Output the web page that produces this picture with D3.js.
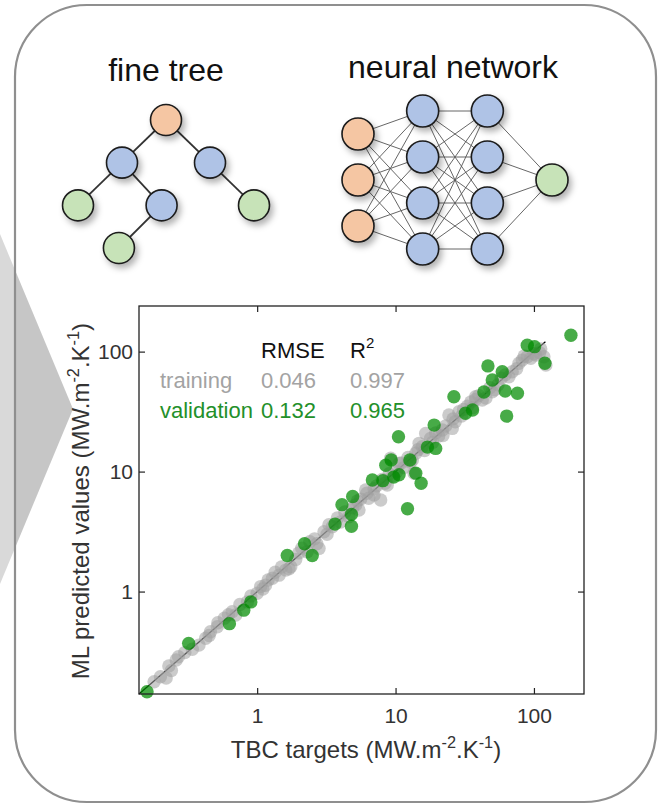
<!DOCTYPE html>
<html>
<head>
<meta charset="UTF-8">
<title>fine tree / neural network - TBC prediction</title>
<script src="https://d3js.org/d3.v7.min.js"></script>
<style>
  body { margin: 0; background: #fff; }
  svg { display: block; font-family: "Liberation Sans", Arial, sans-serif; }
  .tick line { stroke: #222; stroke-width: 1.2; }
  .tick text { fill: #333; font-size: 21px; }
</style>
</head>
<body>
<div id="chart"></div>
<script>
// ---- data ----
// training set: TBC target vs ML prediction (MW.m-2.K-1)
const trainTarget = [0.18, 0.20, 0.22, 0.23, 0.24, 0.26, 0.27, 0.30, 0.34, 0.38, 0.425, 0.45, 0.46, 0.515, 0.52,
  0.58, 0.62, 0.66, 0.70, 0.75, 0.85, 0.9, 1.00, 1.06, 1.1, 1.15, 1.2, 1.29, 1.35, 1.44, 1.5, 1.61, 1.7,
  1.75, 1.9, 2.0, 2.1, 2.3, 2.4, 2.6, 2.7, 2.8, 3.04, 3.2, 3.3, 3.49, 3.8, 4.0, 4.3, 4.6, 4.9, 5.15, 5.3,
  5.44, 5.6, 6.08, 6.2, 6.4, 6.99, 7.0, 7.3, 7.81, 8.0, 8.4, 8.71, 9.0, 9.22, 9.5, 10.2, 10.6, 11.0, 11.5,
  12.3, 12.8, 13.2, 13.6, 14.0, 14.5, 14.8, 15.6, 16.2, 16.5, 17.9, 18.5, 19.5, 20.5, 21.8, 22, 23, 24.3,
  25.7, 26, 27, 28.7, 30, 31, 33, 35, 36, 37.9, 38, 40, 42.3, 45, 48, 50, 52, 55, 58, 62, 66, 69.7, 75,
  78, 82.3, 85, 89.5, 95, 100, 103, 110, 112, 118, 122];
const trainPred = [0.177, 0.195, 0.19, 0.24, 0.22, 0.269, 0.286, 0.31, 0.33, 0.358, 0.408, 0.43, 0.463, 0.509, 0.55,
  0.60, 0.64, 0.68, 0.637, 0.78, 0.82, 0.92, 0.967, 1.10, 1.05, 1.13, 1.25, 1.29, 1.45, 1.37, 1.6, 1.51, 1.55,
  1.61, 1.85, 2.1, 2.3, 2.15, 2.6, 2.75, 2.5, 2.29, 3.15, 3.0, 3.6, 3.47, 4.1, 3.8, 4.6, 4.2, 5.0, 5.26, 5.7,
  4.78, 5.9, 7.02, 6.6, 6.0, 6.37, 7.2, 7.6, 5.79, 8.6, 8.0, 7.72, 9.6, 12.9, 9.2, 10.0, 11.7, 11.8, 10.8,
  13.1, 12.0, 12.4, 9.67, 14.2, 15.2, 17.2, 16.1, 15.0, 20.8, 18.9, 17.5, 21, 19.8, 22.2, 20, 24, 29.6,
  22.9, 27.5, 26, 31.5, 29, 33, 35, 38, 34, 42.0, 40, 43, 39.5, 41, 50, 46.3, 48, 53, 60, 64, 61.7, 67.9, 72,
  80, 85.0, 92, 90.6, 88, 96, 93.6, 98, 105, 90.6, 77.2];
// validation set
const valTarget = [0.16, 0.32, 0.63, 0.80, 0.90, 1.65, 2.2, 2.5, 3.65, 4.1, 4.8, 4.8, 4.9, 6.8, 8.1, 8.5, 9.3,
  9.7, 10.6, 12.2, 12.7, 14.0, 15.3, 10.5, 17, 19.5, 19, 26.4, 32, 36, 43.5, 46.5, 50, 59, 62, 63.5, 76,
  89.5, 101, 120, 185];
const valPred = [0.146, 0.37, 0.54, 0.70, 0.82, 2.0, 2.5, 2.0, 3.65, 5.3, 4.4, 3.5, 6.2, 8.5, 8.4, 11.3, 12.5,
  9.0, 9.4, 4.9, 12.5, 9.7, 8.0, 19.5, 16, 15.6, 24.4, 42, 30.6, 32.6, 46, 76, 58, 68, 47, 29, 45,
  113, 110, 80, 137];
const tickVals = [1, 10, 100];
const metricNames = ["RMSE", "R"];
const trainingStats = ["0.046", "0.997"];
const validationStats = ["0.132", "0.965"];
const parityLine = [0.14, 121];

// schematic diagrams
const treeNodes = [
  { id: "root", col: 0, depth: 0, kind: "in" },
  { id: "L", col: -1, depth: 1, kind: "mid" },
  { id: "R", col: 1, depth: 1, kind: "mid" },
  { id: "LL", col: -2, depth: 2, kind: "out" },
  { id: "LR", col: -0.1, depth: 2, kind: "mid" },
  { id: "RR", col: 2, depth: 2, kind: "out" },
  { id: "LRL", col: -1.07, depth: 3, kind: "out" }
];
const treeLinks = [["root", "L"], ["root", "R"], ["L", "LL"], ["L", "LR"], ["LR", "LRL"], ["R", "RR"]];
const layerSizes = [3, 4, 4, 1];
const layerKinds = ["in", "mid", "mid", "out"];

// ---- svg ----
const W = 666, H = 806;
const svg = d3.select("#chart").append("svg").attr("width", W).attr("height", H);
const defs = svg.append("defs");
const sh = defs.append("filter").attr("id", "shadow")
  .attr("x", "-50%").attr("y", "-50%").attr("width", "200%").attr("height", "200%");
sh.append("feDropShadow").attr("dx", 3).attr("dy", 4).attr("stdDeviation", 3)
  .attr("flood-color", "#000").attr("flood-opacity", 0.3);
const grad = defs.append("linearGradient").attr("id", "chev")
  .attr("gradientUnits", "userSpaceOnUse").attr("x1", 0).attr("x2", 73).attr("y1", 0).attr("y2", 0);
grad.append("stop").attr("offset", 0).attr("stop-color", "#d9d9d9");
grad.append("stop").attr("offset", 0.2).attr("stop-color", "#d9d9d9");
grad.append("stop").attr("offset", 0.2).attr("stop-color", "#c6c6c6");
grad.append("stop").attr("offset", 1).attr("stop-color", "#c6c6c6");

svg.append("rect").attr("width", W).attr("height", H).attr("fill", "#fff");
// gray arrow behind the panel
svg.append("path").attr("d", "M0,234 L73,409 L0,584 Z").attr("fill", "url(#chev)");
// panel
svg.append("rect").attr("x", 15).attr("y", 5).attr("width", 641).attr("height", 797)
  .attr("rx", 72).attr("ry", 72).attr("fill", "none").attr("stroke", "#8f8f8f").attr("stroke-width", 2.2);

const fills = { in: "#f5c6a3", mid: "#afc3e6", out: "#c7e3b8" };

// ---- fine tree ----
svg.append("text").attr("x", 166).attr("y", 81).attr("text-anchor", "middle")
  .attr("font-size", 32).attr("fill", "#111").text("fine tree");
const tx = d3.scaleLinear().domain([-2, 2]).range([78, 254]);
const ty = d3.scaleLinear().domain([0, 3]).range([120, 248]);
const byId = new Map(treeNodes.map(d => [d.id, d]));
svg.append("g").selectAll("line").data(treeLinks).join("line")
  .attr("x1", d => tx(byId.get(d[0]).col)).attr("y1", d => ty(byId.get(d[0]).depth))
  .attr("x2", d => tx(byId.get(d[1]).col)).attr("y2", d => ty(byId.get(d[1]).depth))
  .attr("stroke", "#333").attr("stroke-width", 1.8);
svg.append("g").selectAll("circle").data(treeNodes).join("circle")
  .attr("cx", d => tx(d.col)).attr("cy", d => ty(d.depth)).attr("r", 15.5)
  .attr("fill", d => fills[d.kind]).attr("stroke", "#1a1a1a").attr("stroke-width", 1.6)
  .attr("filter", "url(#shadow)");

// ---- neural network ----
svg.append("text").attr("x", 453).attr("y", 78).attr("text-anchor", "middle")
  .attr("font-size", 32).attr("fill", "#111").text("neural network");
const nx = d3.scaleLinear().domain([0, 3]).range([358, 552]);
const nyStep = 46, nyMid = 180;
const nnNodes = [];
layerSizes.forEach((n, l) => {
  for (let i = 0; i < n; i++) nnNodes.push({ layer: l, i, n, kind: layerKinds[l] });
});
const ny = d => nyMid + (d.i - (d.n - 1) / 2) * nyStep;
const nnLinks = [];
nnNodes.forEach(a => nnNodes.forEach(b => { if (b.layer === a.layer + 1) nnLinks.push([a, b]); }));
svg.append("g").selectAll("line").data(nnLinks).join("line")
  .attr("x1", d => nx(d[0].layer)).attr("y1", d => ny(d[0]))
  .attr("x2", d => nx(d[1].layer)).attr("y2", d => ny(d[1]))
  .attr("stroke", "#555").attr("stroke-width", 0.9);
svg.append("g").selectAll("circle").data(nnNodes).join("circle")
  .attr("cx", d => nx(d.layer)).attr("cy", d => ny(d)).attr("r", 16)
  .attr("fill", d => fills[d.kind]).attr("stroke", "#1a1a1a").attr("stroke-width", 1.6)
  .attr("filter", "url(#shadow)");

// ---- parity plot ----
const x = d3.scaleLog().domain([0.14, 230]).range([139, 584]);
const y = d3.scaleLog().domain([0.14, 240]).range([694, 306]);

const plot = svg.append("g");
plot.append("line")
  .attr("x1", x(parityLine[0])).attr("y1", y(parityLine[0]))
  .attr("x2", x(parityLine[1])).attr("y2", y(parityLine[1]))
  .attr("stroke", "#000").attr("stroke-width", 1.3);

const train = trainTarget.map((t, i) => ({ t, p: trainPred[i] }));
const val = valTarget.map((t, i) => ({ t, p: valPred[i] }));
plot.append("g").selectAll("circle").data(train).join("circle")
  .attr("cx", d => x(d.t)).attr("cy", d => y(d.p)).attr("r", 6.7)
  .attr("fill", "#a0a0a0").attr("fill-opacity", 0.55);
plot.append("g").selectAll("circle").data(val).join("circle")
  .attr("cx", d => x(d.t)).attr("cy", d => y(d.p)).attr("r", 6.7)
  .attr("fill", "#008a00").attr("fill-opacity", 0.72);

// axes with inward ticks, mirrored on top and right
const gx = svg.append("g").attr("transform", `translate(0,${y.range()[0]})`)
  .call(d3.axisBottom(x).tickValues(tickVals).tickFormat(d3.format("d")).tickSizeInner(-6).tickSizeOuter(0).tickPadding(14));
const gy = svg.append("g").attr("transform", `translate(${x.range()[0]},0)`)
  .call(d3.axisLeft(y).tickValues(tickVals).tickFormat(d3.format("d")).tickSizeInner(-6).tickSizeOuter(0).tickPadding(6));
const gt = svg.append("g").attr("transform", `translate(0,${y.range()[1]})`)
  .call(d3.axisTop(x).tickValues(tickVals).tickFormat("").tickSizeInner(-6).tickSizeOuter(0));
const gr = svg.append("g").attr("transform", `translate(${x.range()[1]},0)`)
  .call(d3.axisRight(y).tickValues(tickVals).tickFormat("").tickSizeInner(-6).tickSizeOuter(0));
[gx, gy, gt, gr].forEach(g => g.select(".domain").remove());
[gx, gy].forEach(g => g.selectAll("text").attr("font-family", null).attr("font-size", null));

svg.append("rect")
  .attr("x", x.range()[0]).attr("y", y.range()[1])
  .attr("width", x.range()[1] - x.range()[0]).attr("height", y.range()[0] - y.range()[1])
  .attr("fill", "none").attr("stroke", "#222").attr("stroke-width", 1.3);

// axis titles with superscripts
function unitLabel(sel, main) {
  sel.append("tspan").text(main + " (MW.m");
  sel.append("tspan").attr("dy", -10).attr("font-size", "0.68em").text("-2");
  sel.append("tspan").attr("dy", 10).text(".K");
  sel.append("tspan").attr("dy", -10).attr("font-size", "0.68em").text("-1");
  sel.append("tspan").attr("dy", 10).text(")");
}
const xt = svg.append("text").attr("x", 366).attr("y", 758).attr("text-anchor", "middle")
  .attr("font-size", 24).attr("fill", "#333");
unitLabel(xt, "TBC targets");
const yt = svg.append("text").attr("transform", "translate(89,501) rotate(-90)").attr("text-anchor", "middle")
  .attr("font-size", 24).attr("fill", "#333");
unitLabel(yt, "ML predicted values");

// metrics table
const colX = [261, 350];
const ann = svg.append("g").attr("font-size", 22);
metricNames.forEach((m, i) => {
  const t = ann.append("text").attr("x", colX[i]).attr("y", 358).attr("fill", "#111").text(m);
  if (m === "R") t.append("tspan").attr("dy", -10).attr("font-size", 15).text("2");
});
ann.append("text").attr("x", 160).attr("y", 388).attr("fill", "#a3a3a3").text("training");
trainingStats.forEach((s, i) => ann.append("text").attr("x", colX[i]).attr("y", 388).attr("fill", "#a3a3a3").text(s));
ann.append("text").attr("x", 160).attr("y", 418).attr("fill", "#23902a").text("validation");
validationStats.forEach((s, i) => ann.append("text").attr("x", colX[i]).attr("y", 418).attr("fill", "#23902a").text(s));
</script>
</body>
</html>
